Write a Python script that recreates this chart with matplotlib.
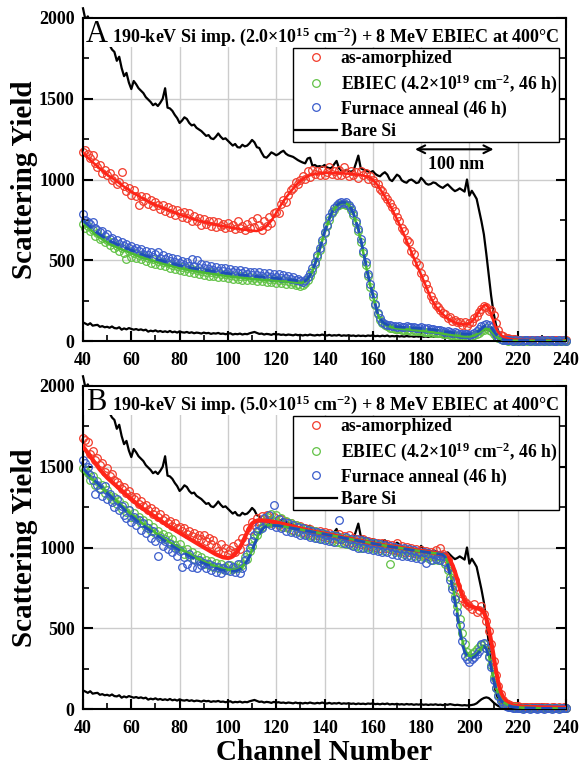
import matplotlib
matplotlib.use('Agg')
import matplotlib.pyplot as plt
from matplotlib.patches import Rectangle
import numpy as np

plt.rcParams['font.family'] = ['Liberation Serif', 'DejaVu Serif']
plt.rcParams['font.weight'] = 'bold'
plt.rcParams['mathtext.fontset'] = 'custom'
plt.rcParams['mathtext.rm'] = 'Liberation Serif:bold'
plt.rcParams['mathtext.it'] = 'Liberation Serif:bold:italic'
plt.rcParams['mathtext.bf'] = 'Liberation Serif:bold'

# channels 40..240, one value per channel
red_a = [1172, 1180, 1160, 1135, 1150, 1100, 1078, 1090, 1040, 1060,
         1025, 1040, 995, 1010, 975, 985, 1048, 960, 930, 950,
         905, 935, 900, 845, 900, 868, 890, 850, 870, 835,
         860, 840, 815, 845, 805, 830, 795, 820, 780, 810,
         790, 770, 800, 760, 790, 740, 775, 745, 760, 720,
         755, 725, 745, 712, 740, 705, 735, 710, 725, 700,
         730, 705, 720, 695, 740, 700, 715, 690, 725, 700,
         745, 705, 760, 720, 690, 740, 710, 765, 730, 790,
         800, 790, 850, 870, 860, 905, 935, 950, 985, 975,
         1000, 1020, 1005, 1050, 1015, 1060, 1035, 1050, 1025, 1060,
         1030, 1045, 1075, 1035, 1050, 1025, 1060, 1030, 1080, 1040,
         1020, 1055, 1030, 1045, 1010, 1050, 1025, 1040, 1005, 1020,
         995, 980, 975, 940, 930, 900, 880, 855, 830, 805,
         770, 745, 700, 680, 625, 610, 560, 540, 490, 470,
         420, 390, 350, 320, 280, 255, 225, 210, 190, 175,
         165, 145, 150, 125, 130, 115, 120, 100, 115, 95,
         110, 120, 140, 155, 180, 200, 215, 210, 185, 195,
         160, 110, 70, 40, 30, 20, 18, 14, 12, 10,
         9, 8, 9, 7, 8, 6, 7, 8, 6, 7,
         6, 8, 5, 7, 6, 5, 7, 6, 5, 6,
         5]
green_a = [722, 700, 712, 680, 688, 650, 668, 630, 640, 612,
           625, 595, 610, 575, 590, 560, 578, 545, 510, 555,
           520, 545, 515, 530, 505, 525, 498, 515, 485, 505,
           478, 495, 470, 488, 462, 480, 452, 472, 445, 465,
           438, 458, 432, 450, 428, 445, 420, 440, 415, 432,
           410, 428, 405, 425, 402, 420, 398, 415, 395, 412,
           390, 410, 385, 405, 383, 402, 380, 400, 378, 396,
           375, 392, 372, 390, 370, 388, 366, 385, 363, 382,
           360, 378, 357, 375, 355, 372, 352, 368, 345, 350,
           342, 345, 360, 378, 400, 435, 475, 518, 565, 615,
           668, 712, 750, 792, 812, 835, 842, 850, 848, 840,
           835, 810, 778, 730, 680, 615, 545, 470, 400, 335,
           275, 220, 165, 130, 110, 98, 90, 82, 80, 76,
           72, 74, 70, 68, 70, 66, 64, 66, 62, 60,
           62, 58, 56, 58, 52, 55, 50, 48, 50, 44,
           42, 44, 38, 36, 38, 32, 30, 30, 26, 28,
           25, 30, 35, 42, 52, 64, 70, 78, 70, 60,
           44, 28, 16, 10, 6, 4, 3, 4, 2, 3,
           2, 3, 2, 4, 3, 2, 3, 2, 3, 2,
           3, 2, 3, 2, 3, 2, 2, 3, 2, 3,
           2]
blue_a = [785, 748, 735, 725, 735, 700, 690, 672, 680, 650,
          660, 632, 640, 615, 625, 598, 610, 590, 602, 575,
          590, 565, 578, 555, 570, 540, 560, 530, 548, 520,
          540, 552, 515, 530, 505, 520, 495, 512, 488, 505,
          480, 498, 472, 492, 465, 505, 462, 500, 455, 478,
          450, 470, 445, 465, 440, 458, 436, 455, 432, 450,
          428, 445, 425, 440, 422, 438, 418, 435, 415, 430,
          410, 428, 408, 425, 405, 422, 400, 418, 398, 415,
          395, 412, 392, 408, 388, 400, 385, 395, 378, 385,
          372, 368, 378, 395, 420, 450, 490, 530, 575, 628,
          678, 720, 765, 800, 825, 840, 852, 860, 855, 862,
          845, 822, 790, 745, 695, 630, 560, 490, 415, 350,
          290, 232, 175, 140, 118, 108, 100, 96, 92, 90,
          88, 92, 88, 86, 90, 85, 84, 88, 82, 80,
          84, 78, 76, 80, 72, 74, 68, 66, 68, 62,
          58, 60, 55, 52, 54, 48, 45, 46, 42, 44,
          40, 45, 52, 60, 75, 90, 102, 105, 100, 88,
          65, 42, 25, 14, 8, 5, 4, 5, 3, 4,
          3, 4, 3, 5, 4, 3, 4, 3, 4, 3,
          4, 3, 4, 3, 4, 3, 3, 4, 3, 4,
          3]

red_b = [1680, 1665, 1655, 1580, 1600, 1540, 1555, 1510, 1525, 1470,
         1490, 1440, 1455, 1420, 1405, 1390, 1360, 1375, 1335, 1350,
         1320, 1300, 1315, 1270, 1290, 1255, 1265, 1230, 1245, 1205,
         1225, 1190, 1210, 1170, 1185, 1150, 1165, 1135, 1150, 1120,
         1130, 1100, 1118, 1085, 1100, 1070, 1090, 1060, 1080, 1050,
         1075, 1040, 1060, 1020, 1045, 1005, 980, 1020, 975, 1000,
         960, 985, 1010, 970, 1025, 990, 1060, 1040, 1120, 1110,
         1160, 1140, 1185, 1160, 1195, 1175, 1200, 1170, 1150, 1190,
         1165, 1140, 1175, 1130, 1160, 1125, 1150, 1110, 1140, 1105,
         1135, 1095, 1120, 1090, 1115, 1080, 1105, 1075, 1100, 1070,
         1095, 1065, 1090, 1060, 1080, 1055, 1085, 1050, 1070, 1040,
         1075, 1035, 1060, 1030, 1055, 1020, 1050, 1015, 1040, 1010,
         1035, 1005, 1030, 1000, 1025, 995, 1020, 990, 1015, 985,
         1030, 980, 1010, 975, 1005, 970, 1000, 965, 990, 960,
         985, 955, 980, 950, 975, 945, 985, 950, 1000, 960,
         945, 920, 880, 850, 800, 760, 720, 690, 660, 650,
         640, 620, 650, 600, 610, 640, 590, 545, 480, 400,
         300, 210, 140, 90, 55, 35, 28, 22, 20, 18,
         16, 14, 12, 13, 11, 12, 10, 12, 11, 10,
         12, 10, 11, 9, 10, 11, 9, 10, 9, 10,
         9]
green_b = [1490, 1480, 1460, 1420, 1440, 1390, 1410, 1370, 1385, 1340,
           1355, 1320, 1300, 1310, 1270, 1285, 1240, 1265, 1220, 1235,
           1190, 1215, 1175, 1190, 1150, 1170, 1130, 1150, 1105, 1125,
           1090, 1105, 1070, 1085, 1050, 1070, 1030, 1050, 1015, 1000,
           1020, 985, 960, 990, 945, 970, 930, 955, 915, 940,
           900, 925, 890, 915, 880, 905, 870, 895, 865, 880,
           860, 890, 865, 880, 870, 900, 890, 940, 930, 980,
           1010, 1060, 1075, 1110, 1130, 1160, 1190, 1150, 1205, 1160,
           1200, 1145, 1180, 1125, 1165, 1120, 1150, 1105, 1140, 1100,
           1130, 1085, 1115, 1075, 1110, 1070, 1100, 1060, 1090, 1055,
           1085, 1050, 1070, 1040, 1075, 1035, 1065, 1030, 1060, 1020,
           1050, 1015, 1045, 1010, 1035, 1000, 1040, 1005, 1030, 995,
           1025, 990, 1020, 985, 1010, 980, 1005, 895, 1000, 975,
           995, 970, 990, 960, 985, 955, 980, 950, 975, 945,
           960, 940, 965, 935, 955, 925, 945, 920, 940, 915,
           900, 860, 820, 760, 700, 640, 560, 470, 400, 355,
           330, 340, 355, 370, 385, 395, 400, 380, 330, 270,
           200, 130, 85, 55, 35, 25, 18, 14, 12, 10,
           8, 6, 5, 6, 4, 5, 6, 4, 5, 4,
           5, 4, 6, 4, 5, 4, 5, 4, 5, 4,
           4]
blue_b = [1540, 1525, 1500, 1450, 1420, 1330, 1390, 1360, 1320, 1380,
          1300, 1330, 1280, 1250, 1300, 1230, 1260, 1200, 1180, 1230,
          1160, 1190, 1140, 1170, 1110, 1150, 1090, 1120, 1060, 1100,
          1040, 949, 1060, 1010, 1040, 990, 1020, 970, 1000, 950,
          980, 880, 940, 900, 960, 880, 930, 870, 920, 890,
          905, 870, 900, 860, 885, 850, 880, 845, 870, 860,
          890, 855, 880, 850, 900, 845, 870, 920, 960, 1000,
          1040, 1080, 1100, 1140, 1120, 1180, 1150, 1200, 1140, 1265,
          1130, 1175, 1120, 1160, 1105, 1150, 1095, 1140, 1090, 1130,
          1080, 1120, 1075, 1110, 1065, 1100, 1060, 1095, 1050, 1090,
          1045, 1080, 1040, 1075, 1035, 1070, 1172, 1050, 1025, 1065,
          1020, 1055, 1010, 1050, 1000, 1045, 995, 1040, 990, 1030,
          985, 1025, 980, 1020, 975, 1015, 970, 1010, 960, 1005,
          955, 1000, 950, 995, 945, 990, 940, 985, 935, 975,
          930, 970, 904, 965, 925, 960, 930, 955, 925, 950,
          910, 870, 800, 740, 680, 600, 520, 420, 330, 310,
          290, 310, 320, 340, 360, 400, 410, 380, 320, 260,
          180, 130, 80, 50, 30, 20, 14, 10, 8, 6,
          4, 5, 3, 4, 5, 3, 4, 5, 3, 4,
          5, 3, 4, 5, 3, 4, 5, 3, 4, 5,
          4]

# bare Si: random (upper) and aligned (lower) spectra, same in both panels
bare_hi = [2060, 1990, 2010, 1975, 1960, 1945, 1930, 1910, 1890, 1875,
           1850, 1833, 1805, 1790, 1735, 1760, 1690, 1640, 1660, 1600,
           1560, 1610, 1590, 1565, 1550, 1535, 1510, 1495, 1480, 1460,
           1470, 1455, 1475, 1500, 1565, 1445, 1440, 1425, 1400, 1380,
           1350, 1365, 1385, 1375, 1350, 1335, 1340, 1320, 1310, 1300,
           1285, 1270, 1275, 1255, 1250, 1265, 1285, 1265, 1250, 1255,
           1240, 1225, 1210, 1220, 1200, 1198, 1215, 1205, 1210, 1225,
           1245, 1230, 1200, 1195, 1165, 1140, 1135, 1150, 1168, 1160,
           1150, 1158, 1170, 1178, 1160, 1150, 1145, 1140, 1130, 1120,
           1112, 1105, 1100, 1130, 1135, 1085, 1090, 1080, 1083, 1078,
           1090, 1075, 1070, 1072, 1095, 1115, 1070, 1055, 1050, 1060,
           1052, 1048, 1055, 1100, 1148, 1070, 1062, 1058, 1050, 1045,
           1052, 1035, 1025, 1020, 1035, 1045, 1030, 1000, 990, 1010,
           1030, 1020, 995, 985, 980, 995, 1000, 990, 978, 982,
           1010, 995, 975, 968, 972, 982, 978, 965, 955, 948,
           960, 970, 955, 940, 928, 935, 945, 935, 925, 1000,
           900, 930, 906, 880, 810, 740, 660, 540, 410, 280,
           175, 100, 60, 35, 20, 10, 6, 4, 3, 3,
           2, 3, 2, 2, 3, 2, 2, 3, 2, 2,
           2, 3, 2, 2, 3, 2, 2, 2, 3, 2,
           2]
bare_lo = [115, 108, 100, 110, 95, 98, 100, 88, 92, 85,
           88, 82, 90, 80, 78, 85, 70, 78, 72, 80,
           75, 70, 74, 68, 72, 66, 70, 58, 64, 60,
           66, 58, 62, 56, 60, 55, 62, 54, 58, 52,
           60, 54, 52, 56, 50, 54, 48, 52, 50, 46,
           52, 48, 50, 44, 48, 46, 50, 44, 46, 42,
           45, 48, 40, 44, 42, 46, 40, 44, 42, 48,
           52, 56, 50, 44, 46, 40, 44, 42, 38, 44,
           40, 42, 38, 40, 36, 40, 38, 35, 40, 36,
           38, 34, 38, 35, 40, 36, 34, 38, 35, 40,
           36, 34, 38, 33, 36, 34, 38, 32, 35, 33,
           36, 32, 34, 30, 34, 31, 33, 30, 34, 32,
           35, 30, 32, 29, 33, 30, 34, 28, 31, 29,
           32, 28, 30, 27, 31, 28, 30, 26, 29, 27,
           30, 26, 28, 25, 28, 26, 29, 25, 27, 24,
           28, 26, 30, 27, 24, 26, 24, 22, 24, 22,
           23, 25, 28, 35, 48, 60, 68, 72, 68, 55,
           40, 28, 18, 12, 8, 5, 3, 3, 3, 3,
           3, 3, 3, 3, 3, 3, 3, 3, 3, 3,
           3, 3, 3, 3, 3, 3, 3, 3, 3, 3,
           3]

# fitted curves
fit_red_a_x = [40, 43, 47, 50, 53, 56, 60, 65, 70, 75,
               80, 85, 90, 95, 100, 105, 110, 112, 114, 116,
               118, 120, 122, 124, 126, 128, 130, 132, 134, 136,
               140, 145, 150, 155, 158, 160, 162, 164, 166, 168,
               170, 172, 174, 176, 178, 180, 182, 184, 186, 188,
               190, 192, 194, 196, 198, 200, 202, 204, 206, 207,
               208, 209, 210, 211, 212, 214, 216, 218, 222, 230,
               240]
fit_red_a = [1168, 1120, 1068, 1030, 1000, 966, 925, 880, 842, 812,
             783, 758, 738, 720, 705, 693, 683, 681, 690, 710,
             745, 793, 843, 887, 925, 962, 992, 1013, 1026, 1034,
             1041, 1040, 1036, 1028, 1016, 998, 965, 918, 870, 815,
             755, 690, 620, 550, 480, 410, 340, 268, 215, 180,
             152, 130, 115, 105, 103, 108, 135, 185, 220, 222,
             205, 170, 120, 80, 52, 25, 15, 10, 7, 5,
             4]
fit_a_x = [40, 42, 45, 48, 51, 55, 60, 65, 70, 75,
           80, 85, 90, 95, 100, 105, 110, 115, 120, 125,
           130, 131, 132, 133, 134, 135, 136, 137, 138, 139,
           140, 141, 142, 143, 144, 145, 146, 147, 148, 149,
           150, 151, 152, 153, 154, 155, 156, 157, 158, 159,
           160, 161, 162, 163, 164, 165, 166, 168, 170, 175,
           180, 185, 190, 195, 198, 200, 202, 204, 206, 207,
           208, 209, 210, 211, 212, 214, 216, 220, 240]
fit_green_a = [729, 705, 662, 630, 602, 573, 544, 515, 492, 471,
               452, 437, 424, 413, 401, 393, 385, 378, 373, 367,
               360, 362, 370, 378, 402, 432, 470, 515, 565, 618,
               668, 710, 755, 790, 815, 833, 845, 853, 855, 852,
               842, 815, 785, 735, 690, 625, 552, 480, 406, 340,
               285, 225, 167, 135, 115, 103, 95, 84, 78, 71,
               64, 54, 43, 33, 28, 28, 34, 50, 72, 76,
               72, 62, 45, 30, 18, 6, 3, 2, 1]
fit_blue_a = [745, 720, 680, 648, 620, 592, 562, 533, 508, 487,
              467, 452, 440, 429, 418, 410, 402, 395, 388, 380,
              372, 368, 372, 385, 408, 438, 476, 520, 570, 622,
              673, 718, 760, 795, 820, 838, 850, 858, 858, 856,
              845, 820, 790, 742, 695, 630, 558, 487, 412, 346,
              290, 230, 172, 140, 118, 107, 100, 92, 88, 82,
              78, 70, 58, 47, 42, 42, 48, 62, 90, 100,
              96, 85, 62, 42, 25, 8, 4, 3, 2]

fit_red_b_x = [40, 43, 47, 50, 53, 56, 60, 65, 70, 75,
               80, 85, 90, 95, 98, 100, 101, 102, 103, 104,
               105, 106, 107, 108, 109, 110, 111, 112, 114, 117,
               121, 125, 130, 135, 140, 145, 150, 155, 160, 165,
               170, 175, 180, 185, 189, 190, 191, 192, 193, 194,
               195, 196, 197, 198, 199, 200, 202, 204, 205, 206,
               207, 208, 209, 210, 211, 212, 213, 214, 215, 216,
               218, 222, 230, 240]
fit_red_b = [1626, 1564, 1482, 1432, 1392, 1352, 1298, 1238, 1188, 1136,
             1091, 1046, 1001, 958, 939, 935, 938, 945, 960, 980,
             1000, 1030, 1062, 1095, 1125, 1148, 1160, 1166, 1168, 1164,
             1152, 1137, 1118, 1100, 1086, 1071, 1056, 1041, 1025, 1013,
             1002, 990, 979, 968, 957, 952, 940, 920, 890, 850,
             800, 750, 705, 672, 650, 638, 628, 620, 612, 598,
             560, 500, 420, 330, 240, 160, 105, 70, 48, 34,
             22, 14, 10, 8]
fit_b_x = [40, 43, 46, 50, 53, 56, 60, 63, 66, 70,
           73, 76, 80, 84, 87, 90, 94, 97, 100, 103,
           105, 106, 107, 108, 109, 110, 111, 112, 113, 114,
           115, 117, 121, 125, 130, 135, 140, 145, 150, 155,
           160, 165, 170, 175, 180, 185, 189, 190, 191, 192,
           193, 194, 195, 196, 197, 198, 199, 200, 201, 202,
           203, 204, 205, 206, 207, 208, 209, 210, 211, 212,
           213, 214, 216, 218, 222, 230, 240]
fit_green_b = [1472, 1430, 1395, 1340, 1300, 1260, 1205, 1168, 1134, 1092,
               1061, 1032, 994, 960, 935, 913, 888, 873, 863, 862,
               872, 883, 900, 920, 950, 985, 1025, 1060, 1090, 1112,
               1128, 1140, 1136, 1125, 1112, 1098, 1084, 1069, 1054, 1040,
               1026, 1012, 1000, 988, 977, 966, 958, 945, 905, 845,
               770, 690, 600, 510, 430, 375, 345, 330, 326, 332,
               345, 362, 380, 393, 380, 335, 265, 195, 135, 90,
               62, 42, 24, 14, 8, 4, 3]
fit_blue_b = [1490, 1440, 1398, 1338, 1295, 1252, 1195, 1158, 1124, 1082,
              1050, 1020, 982, 948, 924, 902, 878, 863, 853, 853,
              865, 878, 897, 918, 948, 982, 1020, 1055, 1085, 1108,
              1124, 1138, 1135, 1124, 1111, 1097, 1083, 1068, 1053, 1039,
              1025, 1011, 999, 987, 976, 965, 956, 940, 895, 830,
              750, 665, 575, 485, 405, 355, 330, 318, 316, 322,
              335, 352, 372, 388, 372, 325, 255, 185, 125, 82,
              55, 38, 22, 13, 7, 4, 3]

ch = np.arange(40, 241)
for s in (red_a, green_a, blue_a, red_b, green_b, blue_b, bare_hi, bare_lo):
    assert len(s) == len(ch)

c_red, c_green, c_blue = '#f23a2a', '#62c246', '#3a5ccc'
c_red_fit, c_green_fit, c_blue_fit = '#ff2418', '#4cbb34', '#1f4fb8'


def panel(ax, red, green, blue, frx, fry, fx, fg, fb, letter, dose, red_lw):
    hb, = ax.plot(ch, bare_hi, color='black', lw=1.6, zorder=1.6, clip_on=False)
    ax.plot(ch, bare_lo, color='black', lw=1.6, zorder=1.6)
    mk = dict(ls='none', marker='o', mfc='none', ms=5.5, mew=0.9, zorder=2, clip_on=False)
    hr, = ax.plot(ch, red, mec=c_red, **mk)
    hg, = ax.plot(ch, green, mec=c_green, **mk)
    hbl, = ax.plot(ch, blue, mec=c_blue, **mk)
    ax.plot(frx, fry, color=c_red_fit, lw=red_lw, zorder=3)
    ax.plot(fx, fg, color=c_green_fit, lw=1.8, zorder=3.1)
    ax.plot(fx, fb, color=c_blue_fit, lw=2.0, ls=(0, (4, 2)), zorder=3.2)

    # white strip behind the panel title
    ax.add_patch(Rectangle((0, 0.91), 1, 0.09, transform=ax.transAxes,
                           facecolor='white', edgecolor='none', zorder=2.2))
    ax.text(0.006, 0.948, letter, transform=ax.transAxes, fontsize=22,
            fontweight='normal', va='center', ha='left', zorder=4)
    ax.text(0.06, 0.943, '190-keV Si imp. (' + dose + r'$\times$10$^{15}$ cm$^{-2}$) + 8 MeV EBIEC at 400°C',
            transform=ax.transAxes, fontsize=13, va='center', ha='left', zorder=4)

    leg = ax.legend([hr, hg, hbl, hb],
                    ['as-amorphized', r'EBIEC (4.2$\times$10$^{19}$ cm$^{-2}$, 46 h)',
                     'Furnace anneal (46 h)', 'Bare Si'],
                    loc='upper right', bbox_to_anchor=(0.986, 0.907), fontsize=12.7,
                    frameon=True, fancybox=False, framealpha=1, edgecolor='black',
                    borderpad=0.12, handlelength=2.4, handletextpad=0.2,
                    labelspacing=0.3, borderaxespad=0)
    leg.get_frame().set_linewidth(1.0)

    ax.set_xlim(40, 240)
    ax.set_ylim(0, 2000)
    ax.set_xticks(np.arange(40, 241, 20))
    ax.set_xticks(np.arange(40, 241, 10), minor=True)
    ax.set_yticks([0, 500, 1000, 1500, 2000])
    ax.set_yticks(np.arange(0, 2001, 250), minor=True)
    ax.set_axisbelow(True)
    ax.grid(True, which='major', color='#cccccc', lw=1.0)
    ax.tick_params(which='both', direction='in', top=True, right=True, labelsize=13)
    ax.tick_params(which='major', length=7, width=1.5)
    ax.tick_params(which='minor', length=4, width=1.2)
    ax.tick_params(axis='x', pad=8)
    ax.tick_params(axis='y', pad=6)
    for sp in ax.spines.values():
        sp.set_linewidth(1.5)
    ax.set_ylabel('Scattering Yield', fontsize=21, fontweight='bold')
    ax.yaxis.set_label_coords(-0.094, 0.5)


fig = plt.figure(figsize=(5.79, 7.73), dpi=100)
axA = fig.add_axes([83 / 579, (773 - 341) / 773, 483 / 579, 323 / 773])
axB = fig.add_axes([83 / 579, (773 - 709) / 773, 483 / 579, 323 / 773])

panel(axA, red_a, green_a, blue_a, fit_red_a_x, fit_red_a, fit_a_x, fit_green_a, fit_blue_a,
      'A', '2.0', 1.8)
panel(axB, red_b, green_b, blue_b, fit_red_b_x, fit_red_b, fit_b_x, fit_green_b, fit_blue_b,
      'B', '5.0', 3.0)

# 100 nm scale arrow in panel A
axA.annotate('', xy=(177.5, 1187), xytext=(210, 1187),
             arrowprops=dict(arrowstyle='<->', lw=1.5, color='black', mutation_scale=14,
                             shrinkA=0, shrinkB=0))
axA.text(194.5, 1090, '100 nm', fontsize=13, ha='center', va='center')

fig.text((83 + 566) / 2 / 579, 1 - 753 / 773, 'Channel Number', fontsize=21,
         fontweight='bold', ha='center', va='center')

fig.savefig('out.png', dpi=100)
